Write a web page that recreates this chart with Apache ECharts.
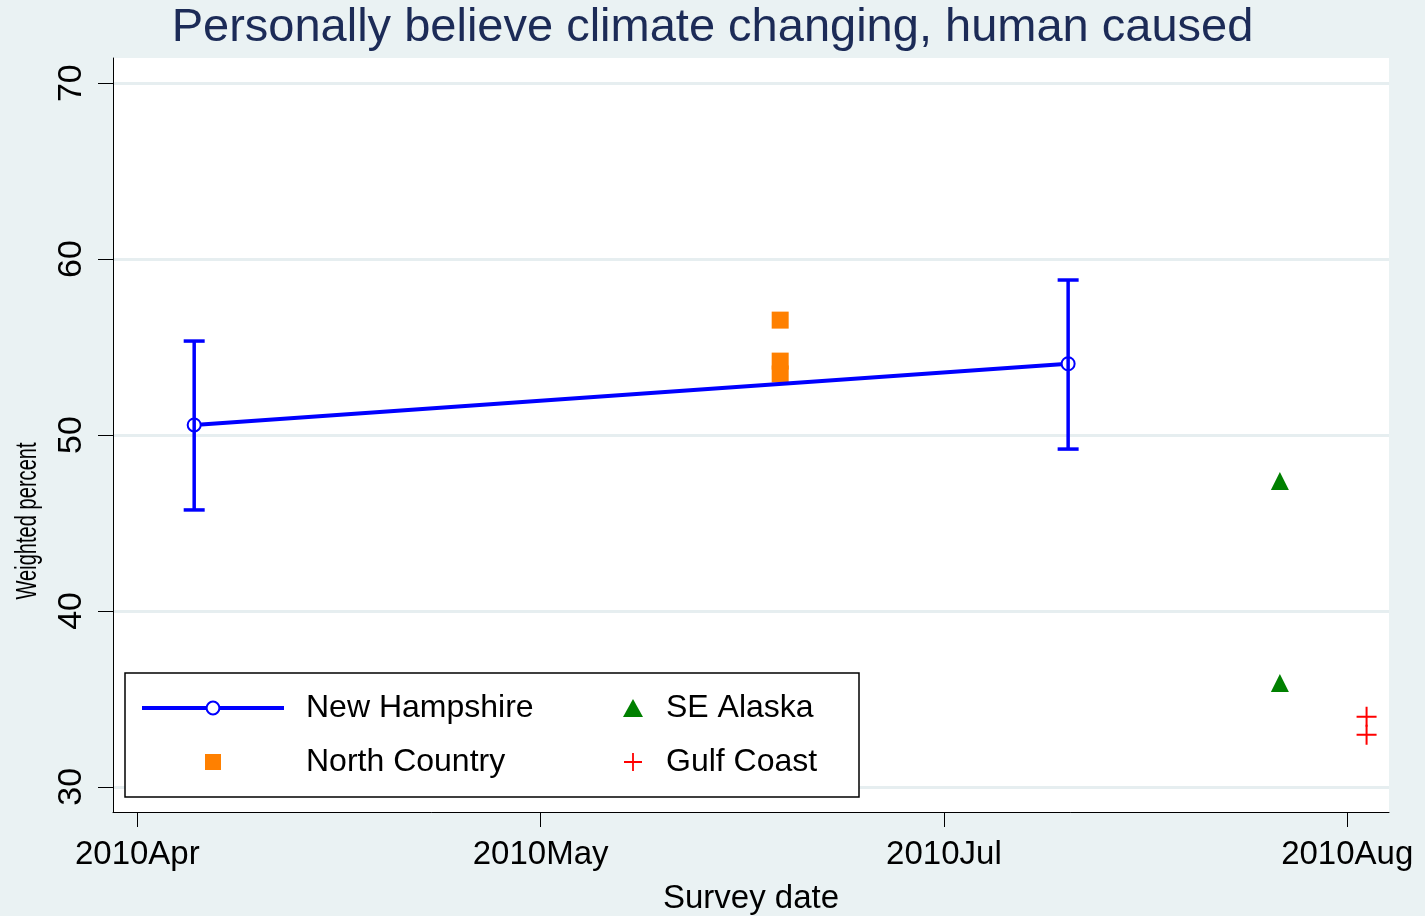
<!DOCTYPE html>
<html>
<head>
<meta charset="utf-8">
<script src="https://cdn.jsdelivr.net/npm/echarts@6/dist/echarts.min.js"></script>
<style>
html, body { margin: 0; padding: 0; background: #eaf2f3; }
#chart { width: 1425px; height: 916px; }
</style>
</head>
<body>
<div id="chart"></div>
<script>
// tick labels
const xTickValues = [0, 1, 2, 3]
const xTickLabels = ['2010Apr', '2010May', '2010Jul', '2010Aug']
const yTickValues = [30, 40, 50, 60, 70]

// New Hampshire: mean with interval
const nhX = [0.141, 2.308]
const nhY = [50.57, 54.05]
const nhLow = [45.74, 49.2]
const nhHigh = [55.34, 58.81]

// North Country
const ncX = [1.594, 1.594, 1.594]
const ncY = [56.53, 54.2, 53.47]

// SE Alaska
const akX = [2.833, 2.833]
const akY = [47.39, 35.9]

// Gulf Coast
const gcX = [3.048, 3.048]
const gcY = [33.98, 32.96]

const FONT = "'Liberation Sans', Arial, sans-serif"
const BLUE = '#0000ff'
const SQUARE = 'path://M0,0H16V16H0Z'
const PLUS = 'path://M9,0H11V20H9Z M0,9H20V11H0Z'

const chart = echarts.init(document.getElementById('chart'))

const option = {
  animation: false,
  backgroundColor: '#eaf2f3',
  title: {
    text: 'Personally believe climate changing, human caused',
    left: 'center',
    top: 5,
    padding: 0,
    textStyle: { fontFamily: FONT, fontSize: 47, fontWeight: 'normal', color: '#1c2b57' }
  },
  grid: {
    left: 113, right: 36, top: 58, bottom: 104,
    outerBoundsMode: 'none',
    containLabel: false,
    show: true, backgroundColor: '#ffffff', borderWidth: 0
  },
  xAxis: {
    type: 'value',
    min: -0.0603,
    max: 3.1036,
    name: 'Survey date',
    nameLocation: 'middle',
    nameGap: 70,
    nameTextStyle: { fontFamily: FONT, fontSize: 33, color: '#000' },
    axisLine: { onZero: false, lineStyle: { color: '#000', width: 1 } },
    axisTick: { show: true, length: 15, lineStyle: { color: '#000' }, customValues: xTickValues },
    axisLabel: {
      customValues: xTickValues,
      formatter: v => xTickLabels[Math.round(v)] || '',
      fontFamily: FONT, fontSize: 33, color: '#000', margin: 26
    },
    splitLine: { show: false }
  },
  yAxis: {
    type: 'value',
    min: 28.57,
    max: 71.43,
    axisLine: { show: true, onZero: false, lineStyle: { color: '#000', width: 1 } },
    axisTick: { show: true, length: 15, lineStyle: { color: '#000' }, customValues: yTickValues },
    axisLabel: {
      customValues: yTickValues,
      rotate: 90,
      fontFamily: FONT,
      fontSize: 34, color: '#000', margin: 24
    },
    splitLine: { show: true, lineStyle: { color: '#e6eef0', width: 3 } }
  },
  legend: [{
    data: ['New Hampshire', { name: 'North Country', icon: SQUARE }],
    orient: 'vertical',
    left: 140,
    top: 692,
    padding: 0,
    z: 6,
    selectedMode: false,
    symbolKeepAspect: true,
    itemWidth: 142,
    itemHeight: 16,
    itemGap: 22,
    lineStyle: { width: 4 },
    textStyle: { fontFamily: FONT, fontSize: 32, lineHeight: 32, color: '#000', padding: [0, 0, 0, 17] }
  }, {
    data: ['SE Alaska', 'Gulf Coast'],
    orient: 'vertical',
    left: 623,
    top: 692,
    padding: 0,
    z: 6,
    selectedMode: false,
    symbolKeepAspect: true,
    itemWidth: 20,
    itemHeight: 18,
    itemGap: 22,
    textStyle: { fontFamily: FONT, fontSize: 32, lineHeight: 32, color: '#000', padding: [0, 0, 0, 18] }
  }],
  graphic: [{
    type: 'rect',
    z: 5,
    shape: { x: 125, y: 673, width: 734, height: 124 },
    style: { fill: '#ffffff', stroke: '#000', lineWidth: 1.5 }
  }, {
    type: 'text',
    x: 28,
    y: 521,
    rotation: Math.PI / 2,
    scaleX: 0.67,
    style: {
      text: 'Weighted percent',
      fontFamily: FONT,
      fontSize: 30,
      fill: '#000',
      textAlign: 'center',
      textVerticalAlign: 'middle'
    }
  }],
  series: [{
    name: 'New Hampshire',
    type: 'line',
    z: 3,
    data: nhX.map((x, i) => [x, nhY[i]]),
    symbol: 'emptyCircle',
    symbolSize: 13,
    lineStyle: { color: BLUE, width: 4 },
    itemStyle: { color: BLUE, borderColor: BLUE, borderWidth: 2 }
  }, {
    name: 'NH interval',
    type: 'custom',
    z: 4,
    data: nhX.map((x, i) => [x, nhLow[i], nhHigh[i]]),
    renderItem: function (params, api) {
      let lo = api.coord([api.value(0), api.value(1)])
      let hi = api.coord([api.value(0), api.value(2)])
      let half = 10.5
      let st = { stroke: BLUE, lineWidth: 3.5 }
      return {
        type: 'group',
        children: [
          { type: 'line', shape: { x1: lo[0], y1: lo[1], x2: hi[0], y2: hi[1] }, style: st },
          { type: 'line', shape: { x1: lo[0] - half, y1: lo[1], x2: lo[0] + half, y2: lo[1] }, style: st },
          { type: 'line', shape: { x1: hi[0] - half, y1: hi[1], x2: hi[0] + half, y2: hi[1] }, style: st }
        ]
      }
    }
  }, {
    name: 'North Country',
    type: 'scatter',
    data: ncX.map((x, i) => [x, ncY[i]]),
    symbol: SQUARE,
    symbolSize: 17,
    symbolKeepAspect: true,
    itemStyle: { color: '#ff8000', opacity: 1 }
  }, {
    name: 'SE Alaska',
    type: 'scatter',
    data: akX.map((x, i) => [x, akY[i]]),
    symbol: 'triangle',
    symbolSize: 18,
    itemStyle: { color: '#008000', opacity: 1 }
  }, {
    name: 'Gulf Coast',
    type: 'scatter',
    data: gcX.map((x, i) => [x, gcY[i]]),
    symbol: PLUS,
    symbolSize: 20,
    symbolKeepAspect: true,
    itemStyle: { color: '#ff0000', opacity: 1 }
  }]
}

chart.setOption(option)
</script>
</body>
</html>
